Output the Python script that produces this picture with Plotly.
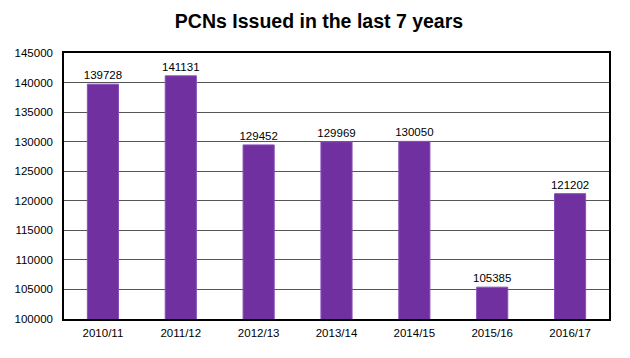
import plotly.graph_objects as go

years = ["2010/11", "2011/12", "2012/13", "2013/14", "2014/15", "2015/16", "2016/17"]
pcns = [139728, 141131, 129452, 129969, 130050, 105385, 121202]
y_ticks = list(range(100000, 145001, 5000))

fig = go.Figure(go.Bar(
    x=years, y=pcns,
    marker=dict(color="#7030A0", line=dict(color="#8A4FB8", width=1)),
    text=[str(v) for v in pcns], textposition="outside", constraintext="none",
    textfont=dict(family="Liberation Sans, Arial", size=11.5, color="#000000"),
    cliponaxis=False,
))

# page body has an 8px default margin, so the figure is sized to fit the window
fig.update_layout(
    width=622, height=350,
    margin=dict(l=56, r=21, t=45, b=39, autoexpand=False),
    paper_bgcolor="white", plot_bgcolor="white",
    bargap=0.6,
    showlegend=False,
    title=dict(text="<b>PCNs Issued in the last 7 years</b>", x=0.5, xanchor="center",
               y=0.962, yanchor="middle",
               font=dict(family="Liberation Sans, Arial", size=19.5, color="#000000")),
    font=dict(family="Liberation Sans, Arial", size=11.5, color="#000000"),
)
fig.update_yaxes(range=[100000, 145000], tickvals=y_ticks, ticktext=[str(t) for t in y_ticks],
                 showgrid=True, gridcolor="#555555", gridwidth=1,
                 showline=True, linecolor="#000000", linewidth=1.5, mirror=True,
                 ticks="", ticklabelstandoff=7, zeroline=False, automargin=False,
                 tickfont=dict(family="Liberation Sans, Arial", size=11.5, color="#000000"))
fig.update_xaxes(showline=True, linecolor="#000000", linewidth=1.5, mirror=True,
                 ticks="", showgrid=False, automargin=False, ticklabelstandoff=2,
                 tickfont=dict(family="Liberation Sans, Arial", size=11.5, color="#000000"))

fig.write_html("out.html")
